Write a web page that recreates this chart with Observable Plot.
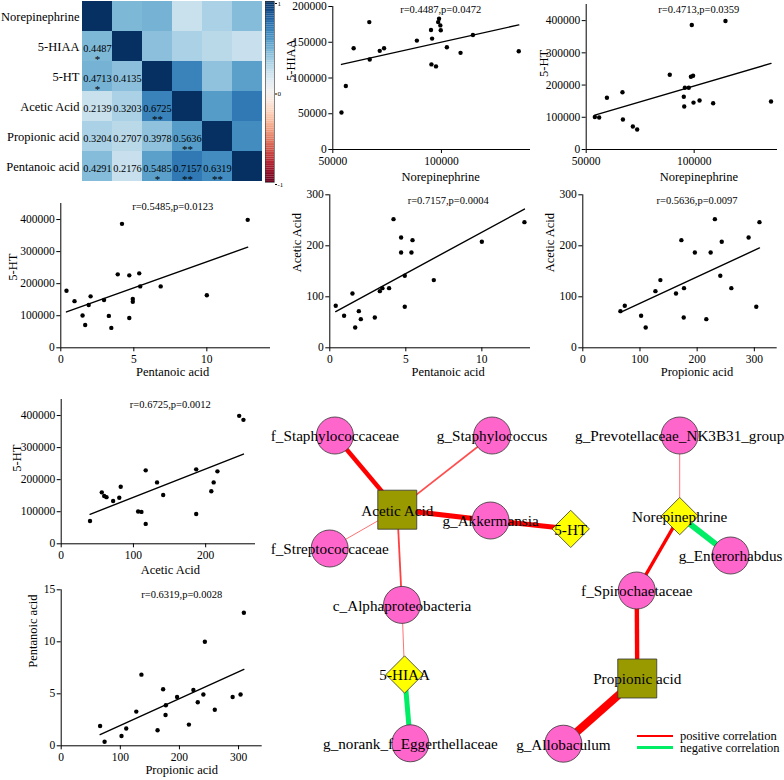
<!DOCTYPE html>
<html><head><meta charset="utf-8">
<script src="https://cdn.jsdelivr.net/npm/d3@7"></script>
<script src="https://cdn.jsdelivr.net/npm/@observablehq/plot@0.6"></script>
<style>
html,body{margin:0;padding:0;background:#fff;}
#root{position:relative;width:784px;height:780px;overflow:hidden;font-family:"Liberation Serif","Times New Roman",serif;color:#000;}
#root svg{position:absolute;overflow:visible;font-family:"Liberation Serif","Times New Roman",serif;}
.legend{position:absolute;font-size:12.5px;line-height:11.6px;white-space:nowrap;font-family:"Liberation Serif","Times New Roman",serif;}
.legend span{display:inline-block;width:36px;height:2.5px;vertical-align:middle;margin-right:7px;position:relative;top:-1px;}
</style></head><body><div id="root"></div>
<script>
// ---------------- DATA ----------------
const heatVars = ["Norepinephrine","5-HIAA","5-HT","Acetic Acid","Propionic acid","Pentanoic acid"];
const corrLower = [
  [],
  [0.4487],
  [0.4713, 0.4135],
  [0.2139, 0.3203, 0.6725],
  [0.3204, 0.2707, 0.3978, 0.5636],
  [0.4291, 0.2176, 0.5485, 0.7157, 0.6319]
];
const corrStars = [
  [],
  ["*"],
  ["*", ""],
  ["", "", "**"],
  ["", "", "", "**"],
  ["", "", "*", "**", "**"]
];
const colorbarTicks = [-1, 0, 1];

// per-sample measurements (20 samples)
const norepinephrine = [66800,99700,54000,71600,95400,59600,135600,56000,73600,99500,98900,98500,67000,102500,108800,88700,95700,97500,95200,114500];
const hiaa5 = [178200,166700,51850,138000,119000,141700,137500,88900,141700,173600,182900,178200,125900,143100,135200,152300,155100,116200,167100,160200];
const ht5 = [177700,145500,100800,71200,133500,160500,149000,99500,62000,229000,386500,226000,93000,152000,143400,232200,191500,191500,163800,399000];
const aceticAcid = [82.4,62.7,106.5,39.9,71.9,56.2,59.5,111.1,117,117,252.3,216.3,186.9,141.2,80.4,186.9,211.1,132.7,207.8,246.4];
const propionicAcid = [73.4,102,163,110,65.8,216,176.5,127,259.8,177,231,290,196,240.5,303.4,223.6,172.4,135.7,243,309];
const pentanoicAcid = [0.39,0.94,1.49,1.67,1.91,2.04,2.96,3.29,3.46,3.90,4.19,4.69,4.69,4.93,4.93,5.37,5.44,6.84,10.0,12.8];

// tick labels
const ticksNE = [50000, 100000];
const ticksHIAA = [0, 50000, 100000, 150000, 200000];
const ticksHT = [0, 100000, 200000, 300000, 400000];
const ticksAcetic = [0, 100, 200, 300];
const ticksAceticX = [0, 100, 200];
const ticksPropionic = [0, 100, 200, 300];
const ticksPentanoicX = [0, 5, 10];
const ticksPentanoicY = [0, 5, 10, 15];

// correlation annotations
const statNE_HIAA = "r=0.4487,p=0.0472";
const statNE_HT = "r=0.4713,p=0.0359";
const statPent_HT = "r=0.5485,p=0.0123";
const statPent_Ac = "r=0.7157,p=0.0004";
const statProp_Ac = "r=0.5636,p=0.0097";
const statProp_Pent = "r=0.6319,p=0.0028";
const statAc_HT = "r=0.6725,p=0.0012";

// network
const netNodes = ["f_Staphylococcaceae","g_Staphylococcus","Acetic Acid","g_Akkermansia","f_Streptococcaceae","5-HT","g_Prevotellaceae_NK3B31_group","Norepinephrine","g_Enterorhabdus","f_Spirochaetaceae","Propionic acid","g_Allobaculum","c_Alphaproteobacteria","5-HIAA","g_norank_f_Eggerthellaceae"];
const netKind = ["taxon","taxon","acid","taxon","taxon","neuro","taxon","neuro","taxon","taxon","acid","taxon","taxon","neuro","taxon"];
const netLayoutX = [14.2,44.2,26.1,43.9,13.2,59.2,80.0,80.0,89.7,71.8,71.9,57.8,27.0,27.5,28.6];
const netLayoutY = [13.75,13.75,32.3,35.0,42.0,37.1,13.75,33.9,43.75,52.5,74.5,90.8,56.1,73.5,90.7];
const edgeFrom = ["f_Staphylococcaceae","g_Staphylococcus","f_Streptococcaceae","Acetic Acid","c_Alphaproteobacteria","5-HIAA","Acetic Acid","g_Akkermansia","g_Prevotellaceae_NK3B31_group","Norepinephrine","Norepinephrine","f_Spirochaetaceae","Propionic acid"];
const edgeTo = ["Acetic Acid","Acetic Acid","Acetic Acid","c_Alphaproteobacteria","5-HIAA","g_norank_f_Eggerthellaceae","g_Akkermansia","5-HT","Norepinephrine","g_Enterorhabdus","f_Spirochaetaceae","Propionic acid","g_Allobaculum"];
const edgeCorr = [0.72,0.58,0.55,0.59,0.55,-0.75,0.76,0.75,0.55,-0.80,0.67,0.72,0.90];

// ---------------- DRAW ----------------
const root = document.getElementById("root");
const FONT = "Liberation Serif, Times New Roman, serif";
const baseStyle = {background:"transparent", overflow:"visible", fontFamily:FONT, fontSize:"11px", color:"#000"};
function place(svg, left, top) {
  svg.style.position = "absolute";
  svg.style.left = left + "px";
  svg.style.top = top + "px";
  root.appendChild(svg);
}

// Heatmap
const cells = [];
heatVars.forEach((rv, i) => heatVars.forEach((cv, j) => {
  const r = i === j ? 1 : (i > j ? corrLower[i][j] : corrLower[j][i]);
  cells.push({row: rv, col: cv, r, lower: i > j, stars: i > j ? corrStars[i][j] : ""});
}));
place(Plot.plot({
  width: 262, height: 185,
  marginLeft: 82, marginRight: 0, marginTop: 1, marginBottom: 4,
  x: {domain: heatVars, padding: 0, axis: null},
  y: {domain: heatVars, padding: 0},
  color: {type: "linear", scheme: "RdBu", domain: [-1, 1]},
  style: baseStyle,
  marks: [
    Plot.cell(cells, {x: "col", y: "row", fill: "r"}),
    Plot.text(cells.filter(d => d.lower), {x: "col", y: "row", text: d => d.r.toFixed(4), fontSize: 10.3, fontFamily: FONT, dy: 2}),
    Plot.text(cells.filter(d => d.lower && d.stars), {x: "col", y: "row", text: "stars", fontSize: 11, fontFamily: FONT, dy: 13}),
    Plot.axisY({tickSize: 0, tickPadding: 3, fontSize: 12.5, fontFamily: FONT, label: null})
  ]
}), 0, 0);

// Colorbar
const cbStops = d3.range(-1, 1, 0.02).map(v => ({v}));
place(Plot.plot({
  width: 24, height: 186,
  marginLeft: 3, marginRight: 12, marginTop: 1, marginBottom: 4,
  x: {domain: [0, 1], axis: null},
  y: {domain: [-1, 1]},
  color: {type: "linear", scheme: "RdBu", domain: [-1, 1]},
  style: baseStyle,
  marks: [
    Plot.rect(cbStops, {x1: d => 0, x2: d => 1, y1: d => d.v, y2: d => d.v + 0.0205, fill: d => d.v + 0.01}),
    Plot.frame({stroke: "#333", strokeWidth: 0.6}),
    Plot.axisY({anchor: "right", ticks: colorbarTicks, tickSize: 2, tickPadding: 1, fontSize: 7, fontFamily: FONT, tickFormat: d => String(d), label: null, dy: 2})
  ]
}), 262, 0);

// Scatter panels
function scatter(p) {
  const data = p.x.map((v, i) => ({x: v, y: p.y[i]}));
  const fs = p.tickFont || 11.5;
  const svg = Plot.plot({
    width: p.w, height: p.h,
    marginLeft: p.fx[0] - p.left, marginRight: p.left + p.w - p.fx[1],
    marginTop: p.fy[0] - p.top, marginBottom: p.top + p.h - p.fy[1],
    x: {domain: p.xd}, y: {domain: p.yd},
    style: baseStyle,
    marks: [
      Plot.ruleX([p.xd[0]], {stroke: "#000", strokeWidth: 1}),
      Plot.ruleY([p.yd[0]], {stroke: "#000", strokeWidth: 1}),
      Plot.axisX({ticks: p.xt, tickSize: 4, tickPadding: 3, tickFormat: d => String(d), fontSize: fs, fontFamily: FONT, label: null}),
      Plot.axisY({ticks: p.yt, tickSize: 4, tickPadding: 2, tickFormat: d => String(d), fontSize: fs, fontFamily: FONT, label: null}),
      Plot.linearRegressionY(data, {x: "x", y: "y", ci: 0, stroke: "#000", strokeWidth: 1.4}),
      Plot.dot(data, {x: "x", y: "y", r: 2.2, fill: "#000", stroke: null}),
      Plot.text([p.stat], {frameAnchor: "top", dx: p.sdx, dy: p.sdy, fontSize: 10.5, fontFamily: FONT}),
      Plot.text([p.xl], {frameAnchor: "bottom", dx: p.sdx, dy: p.xdy, fontSize: 12.5, fontFamily: FONT}),
      Plot.text([p.yl], {frameAnchor: "left", rotate: -90, dx: p.ydx, dy: p.ydy, fontSize: 12.5, fontFamily: FONT})
    ]
  });
  place(svg, p.left, p.top);
}

scatter({x: norepinephrine, y: hiaa5, left: 280, top: 0, w: 250, h: 190, fx: [332.3, 530], fy: [6, 149],
  xd: [50000, 141000], yd: [0, 200000], xt: ticksNE, yt: ticksHIAA, tickFont: 11.5,
  xl: "Norepinephrine", yl: "5-HIAA", stat: statNE_HIAA, sdx: 9, sdy: -1, xdy: 31, ydx: -42, ydy: 3});
scatter({x: norepinephrine, y: ht5, left: 530, top: 0, w: 254, h: 190, fx: [585.7, 777], fy: [4, 149],
  xd: [50000, 138600], yd: [0, 450000], xt: ticksNE, yt: ticksHT,
  xl: "Norepinephrine", yl: "5-HT", stat: statNE_HT, sdx: 17, sdy: 1, xdy: 31, ydx: -42, ydy: 0});
scatter({x: pentanoicAcid, y: ht5, left: 0, top: 195, w: 270, h: 185, fx: [60.3, 270], fy: [203, 347.3],
  xd: [0, 14.36], yd: [0, 450000], xt: ticksPentanoicX, yt: ticksHT,
  xl: "Pentanoic acid", yl: "5-HT", stat: statPent_HT, sdx: 7, sdy: -1, xdy: 28.5, ydx: -48, ydy: 5});
scatter({x: pentanoicAcid, y: aceticAcid, left: 270, top: 195, w: 260, h: 185, fx: [329.3, 530], fy: [194.3, 347.3],
  xd: [0, 13.2], yd: [0, 300], xt: ticksPentanoicX, yt: ticksAcetic,
  xl: "Pentanoic acid", yl: "Acetic Acid", stat: statPent_Ac, sdx: 18, sdy: 2, xdy: 28.5, ydx: -32.6, ydy: 1});
scatter({x: propionicAcid, y: aceticAcid, left: 530, top: 195, w: 254, h: 185, fx: [582.3, 776.7], fy: [194.3, 347.3],
  xd: [0, 340], yd: [0, 300], xt: ticksPropionic, yt: ticksAcetic,
  xl: "Propionic acid", yl: "Acetic Acid", stat: statProp_Ac, sdx: 17, sdy: 2, xdy: 28.5, ydx: -33, ydy: 1});
scatter({x: aceticAcid, y: ht5, left: 0, top: 375, w: 270, h: 185, fx: [60.7, 255], fy: [399, 543.3],
  xd: [0, 269], yd: [0, 450000], xt: ticksAceticX, yt: ticksHT,
  xl: "Acetic Acid", yl: "5-HT", stat: statAc_HT, sdx: 12, sdy: 1, xdy: 29.7, ydx: -44.7, ydy: 0});
scatter({x: propionicAcid, y: pentanoicAcid, left: 0, top: 560, w: 330, h: 220, fx: [60.7, 261.7], fy: [589.3, 745.3],
  xd: [0, 340], yd: [0, 15], xt: ticksPropionic, yt: ticksPentanoicY,
  xl: "Propionic acid", yl: "Pentanoic acid", stat: statProp_Pent, sdx: 20, sdy: 1, xdy: 27.7, ydx: -28.7, ydy: 0});

// Network
const nodes = netNodes.map((name, i) => ({name, kind: netKind[i], x: netLayoutX[i], y: netLayoutY[i]}));
const pos = Object.fromEntries(nodes.map(n => [n.name, n]));
const edges = edgeFrom.map((f, i) => {
  const w = (Math.abs(edgeCorr[i]) - 0.5) * 20;
  const a = Math.min(1, 0.3 + w * 0.25);
  const base = edgeCorr[i] > 0 ? "#ff0000" : "#00ee66";
  return {from: f, to: edgeTo[i], w, color: d3.interpolateRgb("#ffffff", base)(a)};
});
place(Plot.plot({
  width: 524, height: 400,
  marginLeft: 0, marginRight: 0, marginTop: 0, marginBottom: 0,
  x: {domain: [0, 100], axis: null},
  y: {domain: [0, 100], reverse: true, axis: null},
  color: {type: "identity"},
  style: baseStyle,
  marks: [
    Plot.link(edges, {x1: d => pos[d.from].x, y1: d => pos[d.from].y, x2: d => pos[d.to].x, y2: d => pos[d.to].y,
      stroke: "color", strokeWidth: "w", strokeLinecap: "butt"}),
    Plot.dot(nodes.filter(d => d.kind === "taxon"), {x: "x", y: "y", r: 18.5, symbol: "circle", fill: "#ff66cc", stroke: "#333", strokeWidth: 0.8}),
    Plot.dot(nodes.filter(d => d.kind === "acid"), {x: "x", y: "y", r: 22, symbol: "square", fill: "#999900", stroke: "#333", strokeWidth: 0.8}),
    Plot.dot(nodes.filter(d => d.kind === "neuro"), {x: "x", y: "y", r: 16.8, symbol: "diamond2", fill: "#ffff00", stroke: "#333", strokeWidth: 0.8}),
    Plot.text(nodes, {x: "x", y: "y", text: "name", fontSize: 15.2, fontFamily: FONT, dy: 1, fill: "#000"})
  ]
}), 260, 380);

// Legend
const legend = document.createElement("div");
legend.className = "legend";
legend.style.left = "637px";
legend.style.top = "731px";
legend.innerHTML = '<div><span style="background:#ff0000"></span>positive correlation</div><div><span style="background:#00ee66"></span>negative correlation</div>';
root.appendChild(legend);
</script>
</body></html>
